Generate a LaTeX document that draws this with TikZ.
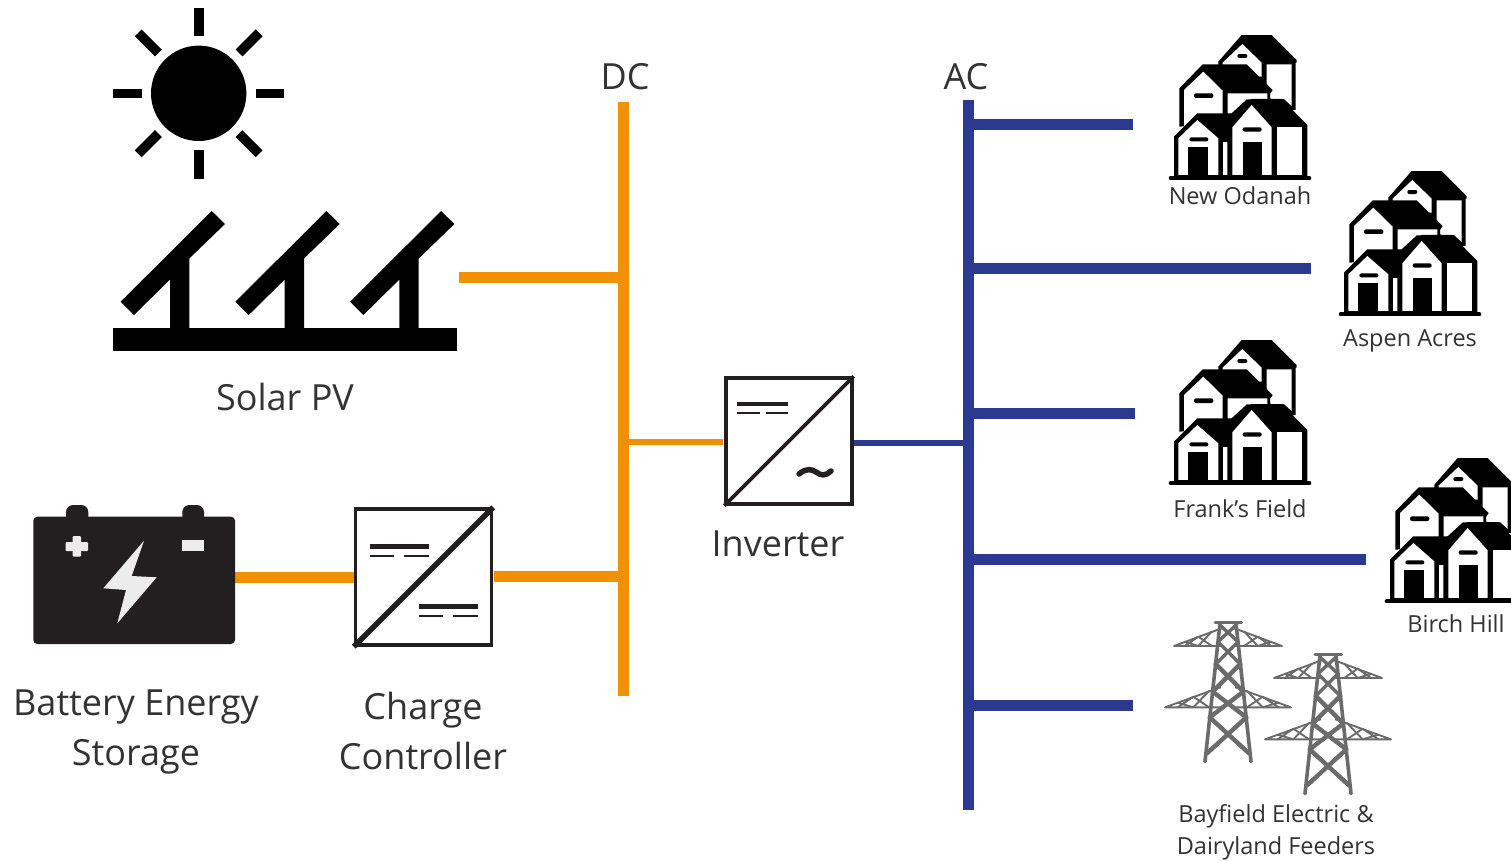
\documentclass[tikz,border=0pt]{standalone}
\usetikzlibrary{calc}
\usepackage{fontspec}
\setmainfont{Open Sans}
\definecolor{dcor}{HTML}{F29100}
\definecolor{acbl}{HTML}{2B3990}
\definecolor{ink}{HTML}{231F20}
\definecolor{txt}{HTML}{333333}
\definecolor{twr}{HTML}{6B6B6B}
\newcommand{\armlat}{%
  \draw (1,0)--(0.12,-1) (1,0)--(0.12,0);
  \draw (.8,-.235)--(.55,0) (.55,-.53)--(.8,0) (.55,-.53)--(.3,0) (.3,-.82)--(.55,0);
}
\tikzset{
  x=1pt,y=-1pt,
  dcline/.style={draw=dcor,line width=11pt},
  dcthin/.style={draw=dcor,line width=6.5pt},
  acline/.style={draw=acbl,line width=11pt},
  acthin/.style={draw=acbl,line width=6pt},
  dcbar/.style={fill=dcor,inner sep=0pt,minimum width=11pt,minimum height=594pt},
  acbar/.style={fill=acbl,inner sep=0pt,minimum width=11pt,minimum height=710pt},
  conv/.style={draw=ink,fill=white,line width=3.4pt,inner sep=0pt,minimum size=#1},
  big/.style={text=txt,font=\fontsize{36}{50}\selectfont,align=center,inner sep=0pt},
  small/.style={text=txt,font=\fontsize{23.5}{32}\selectfont,align=center,inner sep=0pt},
  houses/.pic={
    \begin{scope}[x=0.3333pt,y=-0.3333pt]
      % back house
      \fill[black] (205,125)--(275,45)--(365,45)--(440,120)--(440,128)--(437,128)--(437,270)--(205,270)--cycle;
      \fill[white] (218,128)--(277,72)--(335,128)--(335,170)--(218,170)--cycle;
      \fill[white] (350,133)--(425,133)--(425,258)--(402,237)--(362,237)--(350,200)--cycle;
      \fill[black,rounded corners=2pt] (262,102) rectangle (292,114);
      % middle house
      \fill[black] (88,205)--(158,133)--(290,133)--(368,210)--(360,222)--(360,300)--(88,320)--cycle;
      \fill[white] (102,210)--(160,155)--(218,212)--(218,300)--(102,320)--cycle;
      \fill[white] (233,220)--(352,220)--(352,238)--(290,238)--(233,290)--cycle;
      \fill[black,rounded corners=2pt] (132,220) rectangle (190,234);
      % front left house
      \fill[black] (72,350)--(142,280)--(250,280)--(250,470)--(72,470)--cycle;
      \fill[white] (85,355)--(142,300)--(205,355)--(205,465)--(85,465)--cycle;
      \fill[white] (218,365) rectangle (235,465);
      \fill[black,rounded corners=2pt] (118,352) rectangle (175,364);
      \fill[black] (115,380) rectangle (175,465);
      % front right house
      \fill[black] (232,320)--(305,237)--(395,237)--(472,315)--(472,470)--(232,470)--cycle;
      \fill[white] (247,322)--(305,255)--(365,322)--(365,465)--(247,465)--cycle;
      \fill[white] (380,322) rectangle (457,465);
      \fill[black,rounded corners=2pt] (278,322) rectangle (335,335);
      \fill[black] (278,365) rectangle (335,465);
      \draw[black,line width=4pt,line cap=round] (62,475)--(478,475);
    \end{scope}
  },
  tower/.pic={
    \begin{scope}[x=0.3333pt,y=-0.3333pt,draw=twr,line width=1.9pt,line cap=round,line join=round]
      \foreach \s in {1,-1}{
        \begin{scope}[shift={(234,108)},xscale={\s*162},yscale=53]\armlat\end{scope}
        \begin{scope}[shift={(234,292)},xscale={\s*189},yscale=60]\armlat\end{scope}
      }
      \draw[line width=3.6pt] (210,40)--(165,455) (258,40)--(303,455);
      \draw[line width=2.8pt] (195,38)--(275,38);
      \draw[line width=3.4pt] (209.5,45)--(264,95) (258.5,45)--(204,95)
        (204,95)--(271,162) (264,95)--(197,162);
      \draw[line width=4.4pt]
        (197,162)--(280,245) (271,162)--(188,245)
        (188,245)--(289,322) (280,245)--(179,322)
        (179,322)--(297,430) (289,322)--(171,430);
    \end{scope}
  }
}
\begin{document}
\begin{tikzpicture}
  \clip (0,0) rectangle (1511,860);
  \fill[white] (0,0) rectangle (1511,860);

  % sun
  \fill[black] (198.7,93.3) circle (47.7);
  \foreach \a in {0,45,...,315}{
    \draw[black,line width=9.6pt] ($(198.7,93.3)+(\a:57)$)--($(198.7,93.3)+(\a:85.5)$);
  }

  % solar PV
  \fill[black] (113,327.7) rectangle (456.7,351);
  \foreach \d in {0,114.7,229.4}{
    \begin{scope}[xshift=\d pt]
      \fill[black] (211.7,211) -- (225,224) -- (189.3,258.5) -- (189.3,330) -- (170,330) -- (170,279.5) -- (134,315) -- (120.7,301.7) -- cycle;
    \end{scope}
  }

  % connectors
  \coordinate (dcx) at (623.5,0);
  \coordinate (acx) at (968,0);
  \coordinate (pvout) at (459,277);
  \coordinate (batout) at (235,577);
  \coordinate (chgin) at (354,577);
  \coordinate (chgout) at (494,576);
  \coordinate (invin) at (723,442);
  \coordinate (invout) at (853,443);
  \coordinate (endno) at (1133,124);
  \coordinate (endaa) at (1311,268.5);
  \coordinate (endff) at (1135,413.5);
  \coordinate (endbh) at (1366,559.5);
  \coordinate (endbf) at (1133,705);

  % buses
  \node[dcbar] (dcbus) at (623.5,399) {};
  \node[acbar] (acbus) at (968,455) {};

  \draw[dcline] (pvout)--(pvout -| dcbus.center);
  \draw[dcline] (batout)--(chgin);
  \draw[dcline] (chgout)--(chgout -| dcbus.center);
  \draw[dcthin] (invin -| dcbus.center)--(invin);
  \draw[acthin] (invout)--(invout -| acbus.center);
  \foreach \e in {endno,endaa,endff,endbh,endbf}{
    \draw[acline] (\e -| acbus.center)--(\e);
  }

  % battery
  \fill[ink,rounded corners=4pt] (33.3,516.7) rectangle (235,644);
  \fill[ink,rounded corners=7pt] (66,505) rectangle (88.3,530);
  \fill[ink,rounded corners=7pt] (182.3,505) rectangle (204,530);
  \fill[gray!15,rounded corners=1pt] (72.5,536) rectangle (81,556.5);
  \fill[gray!15,rounded corners=1pt] (65.5,542) rectangle (88,551);
  \fill[gray!15] (182.3,540) rectangle (204,550.7);
  \fill[gray!15] (144,540.7)--(103.3,588.3)--(126,590)--(117.3,623.3)--(156.7,577.3)--(131.7,576)--cycle;

  % converters
  \node[conv=136pt] (charger) at (423.5,577) {};
  \node[conv=126pt] (inverter) at (789,441) {};
  \draw[ink,line width=5.5pt] (charger.south west)--(charger.north east);
  \draw[ink,line width=3.8pt] (inverter.south west)--(inverter.north east);
  \fill[ink] (370,543.5) rectangle (429,548.5);
  \fill[ink] (370,555.3) rectangle (394,557.2);
  \fill[ink] (404,555.3) rectangle (429,557.2);
  \fill[ink] (419,603.5) rectangle (478,608.5);
  \fill[ink] (419,615.3) rectangle (443,617.2);
  \fill[ink] (453,615.3) rectangle (478,617.2);
  \fill[ink] (737,402) rectangle (788,406);
  \fill[ink] (737,412.3) rectangle (760,414.2);
  \fill[ink] (766,412.3) rectangle (788,414.2);
  \draw[ink,line width=5.5pt,line cap=round] (799,474) .. controls (806,468) and (812,469) .. (816,472) .. controls (821,476) and (826,476) .. (831,471);

  % icons
  \pic at (1150,20) {houses};
  \pic at (1320,156) {houses};
  \pic at (1150,325) {houses};
  \pic at (1366,443) {houses};
  \pic at (1150,610) {tower};
  \pic at (1250,642) {tower};

  % labels
  \node[big] (ldc) at (625,77) {DC};
  \node[big] (lac) at (966,77) {AC};
  \node[big] (lpv) at (285,397) {Solar PV};
  \node[big] (lbat) at (136,732) {Battery Energy\\Storage};
  \node[big] (lchg) at (423,731) {Charge\\Controller};
  \node[big] (linv) at (778,544) {Inverter};
  \node[small] (lno) at (1240,196) {New Odanah};
  \node[small] (laa) at (1410,341) {Aspen Acres};
  \node[small] (lff) at (1240,509) {Frank’s Field};
  \node[small] (lbh) at (1456,624) {Birch Hill};
  \node[small] (lbf) at (1276,832) {Bayfield Electric \&\\Dairyland Feeders};
\end{tikzpicture}
\end{document}
